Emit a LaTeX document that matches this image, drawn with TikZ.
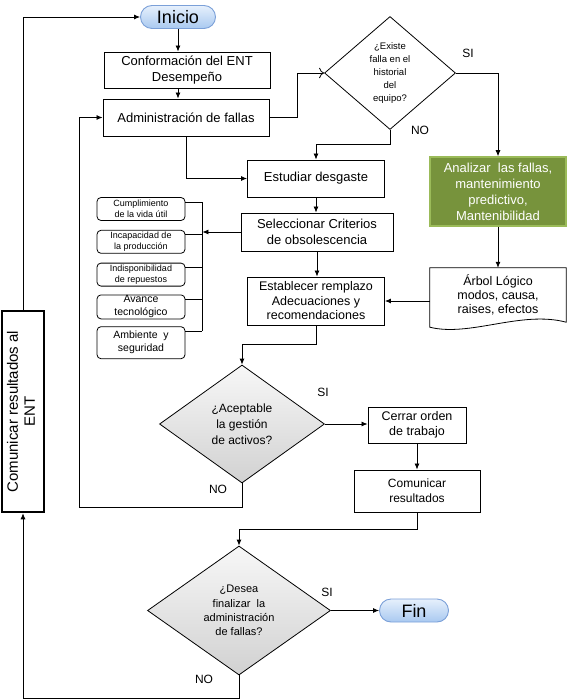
\documentclass[tikz,border=0pt]{standalone}
\usepackage{fontspec}
\setmainfont{Liberation Sans}
\usetikzlibrary{shapes.geometric, shapes.misc, arrows.meta, positioning, calc}

\definecolor{azulborde}{HTML}{7BA0D8}
\definecolor{azulclaro}{HTML}{E6F0FC}
\definecolor{azul}{HTML}{A9C9F0}
\definecolor{verde}{HTML}{77933C}
\definecolor{verdeborde}{HTML}{9BBB59}

\begin{document}
\begin{tikzpicture}[
    x=1pt, y=-1pt,
    >={Latex[length=6pt, width=5pt]},
    linea/.style={line width=0.8pt},
    terminal/.style={rounded rectangle, draw=azulborde, line width=0.9pt, top color=azulclaro, bottom color=azul, minimum width=75pt, minimum height=23pt, inner sep=0pt, font=\fontsize{18}{20}\selectfont},
    proceso/.style={rectangle, draw, line width=0.9pt, align=center, inner sep=0pt, font=\fontsize{13}{16}\selectfont},
    criterio/.style={rectangle, rounded corners=4pt, draw, line width=0.8pt, align=center, minimum width=88pt, inner sep=0pt, font=\fontsize{9}{11}\selectfont},
    decision/.style={diamond, draw, line width=0.8pt, align=center, inner sep=0pt},
    gris/.style={top color=gray!6, bottom color=gray!36},
    documento/.style={align=center, inner sep=0pt, font=\fontsize{12.5}{14}\selectfont},
    etiqueta/.style={font=\fontsize{12}{14}\selectfont},
]
    \useasboundingbox (0,0) rectangle (567,700);

    \node[terminal] (inicio) at (178,17) {Inicio};
    \node[proceso, minimum width=166pt, minimum height=36pt] (conf) at (187,70) {Conformación del ENT\\Desempeño};
    \node[proceso, minimum width=166pt, minimum height=37pt] (admin) at (186,117.5) {Administración de fallas};
    \node[decision, aspect=1.16, minimum width=131pt, minimum height=113pt, font=\fontsize{9.5}{13}\selectfont] (existe) at (390,73) {¿Existe\\falla en el\\historial\\del\\equipo?};
    \node[proceso, fill=verde, draw=verdeborde, line width=1.5pt, text=white, minimum width=136pt, minimum height=69pt] (analizar) at (498,191.5) {Analizar~ las fallas,\\mantenimiento\\predictivo,\\Mantenibilidad};
    \node[proceso, minimum width=137pt, minimum height=37pt] (estudiar) at (316,178.5) {Estudiar desgaste};
    \node[proceso, minimum width=152pt, minimum height=38pt] (selecc) at (317,232) {Seleccionar Criterios\\de obsolescencia};
    \node[proceso, minimum width=137pt, minimum height=48pt, font=\fontsize{12.5}{14.5}\selectfont] (estab) at (316,301) {Establecer remplazo\\Adecuaciones y\\recomendaciones};
    \node[documento, minimum width=136pt, minimum height=54pt] (arbol) at (498,295) {Árbol Lógico\\modos, causa,\\raises, efectos};
    \draw[linea] (arbol.north west) -- (arbol.north east) -- (arbol.south east)
        .. controls +(-45,-12) and +(40,10) .. ($(arbol.south west)+(0,5)$) -- cycle;

    % criterios de obsolescencia
    \node[criterio, minimum height=23pt] (c1) at (141,209) {Cumplimiento\\de la vida útil};
    \node[criterio, minimum height=23pt, below=9pt of c1] (c2) {Incapacidad de\\la producción};
    \node[criterio, minimum height=23pt, below=9pt of c2] (c3) {Indisponibilidad\\de repuestos};
    \node[criterio, minimum height=24pt, below=8pt of c3, font=\fontsize{10.5}{13}\selectfont] (c4) {Avance\\tecnológico};
    \node[criterio, minimum height=32pt, below=7pt of c4, font=\fontsize{10.5}{13}\selectfont] (c5) {Ambiente~ y\\seguridad};

    \node[decision, gris, aspect=1.4, minimum width=165pt, minimum height=118pt, font=\fontsize{12}{16}\selectfont] (aceptable) at (242,424) {¿Aceptable\\la gestión\\de activos?};
    \node[proceso, minimum width=98pt, minimum height=36pt, font=\fontsize{12.5}{15}\selectfont] (cerrar) at (417,425) {Cerrar orden\\de trabajo};
    \node[proceso, minimum width=126pt, minimum height=42pt, font=\fontsize{12}{15}\selectfont] (comunicar) at (417,491) {Comunicar\\resultados};
    \node[decision, gris, aspect=1.42, minimum width=183pt, minimum height=129pt, font=\fontsize{11}{14.3}\selectfont] (desea) at (239,610.5) {¿Desea\\finalizar~ la\\administración\\de fallas?};
    \node[terminal, minimum width=69pt] (fin) at (414,610.5) {Fin};
    \node[proceso, line width=2.5pt, minimum width=42pt, minimum height=201pt, font=\fontsize{15}{17}\selectfont] (comENT) at (23,411.5) {\rotatebox{90}{\begin{tabular}{@{}c@{}}Comunicar resultados al\\ENT\end{tabular}}};

    \coordinate (ret1) at (79,507);
    \coordinate (ret2) at (23,698);
    \coordinate (llave) at ($(c1.north east)+(17,5)$);

    \draw[linea, ->] (inicio.south) -- (inicio.south |- conf.north);
    \draw[linea, ->] (inicio.south |- conf.south) -- (inicio.south |- admin.north);
    \draw[linea, -{To[length=5pt]}] (admin.east) -- ++(28,0) |- (existe.west);
    \draw[linea, ->] (existe.east) -| (analizar.north);
    \draw[linea, ->] (existe.south) -- ++(0,15) -| (estudiar.north);
    \draw[linea, ->] (admin.south) |- (estudiar.west);
    \draw[linea, ->] (estudiar.south) -- (estudiar.south |- selecc.north);
    \draw[linea, ->] (selecc.west) -- (selecc.west -| llave);
    \foreach \c in {c1,c2,c3,c4,c5}
        \draw[linea] ($(\c.north east)+(0,5)$) -- ++(17,0);
    \draw[linea] (llave) -- ($(c5.north east)+(17,5)$);
    \draw[linea, ->] (selecc.south) -- (selecc.south |- estab.north);
    \draw[linea, ->] (analizar.south) -- (arbol.north);
    \draw[linea, ->] (estab.east -| arbol.west) -- (estab.east);
    \draw[linea, ->] (estab.south) -- ++(0,19) -| (aceptable.north);
    \draw[linea, ->] (aceptable.east) -- (aceptable.east -| cerrar.west);
    \draw[linea, ->] (cerrar.south) -- (comunicar.north);
    \draw[linea, ->] (comunicar.south) -- ++(0,17) -| (desea.north);
    \draw[linea, ->] (aceptable.south) |- (ret1) |- (admin.west);
    \draw[linea, ->] (desea.east) -- (fin.west);
    \draw[linea, ->] (desea.south) |- (ret2) -- (comENT.south);
    \draw[linea, ->] (comENT.north) |- (inicio.west);

    \node[etiqueta] (si1) at (468,53) {SI};
    \node[etiqueta] (no1) at (420,130) {NO};
    \node[etiqueta] (si2) at (323,392) {SI};
    \node[etiqueta] (no2) at (218,489) {NO};
    \node[etiqueta] (si3) at (327,592) {SI};
    \node[etiqueta] (no3) at (204,679) {NO};
\end{tikzpicture}
\end{document}
